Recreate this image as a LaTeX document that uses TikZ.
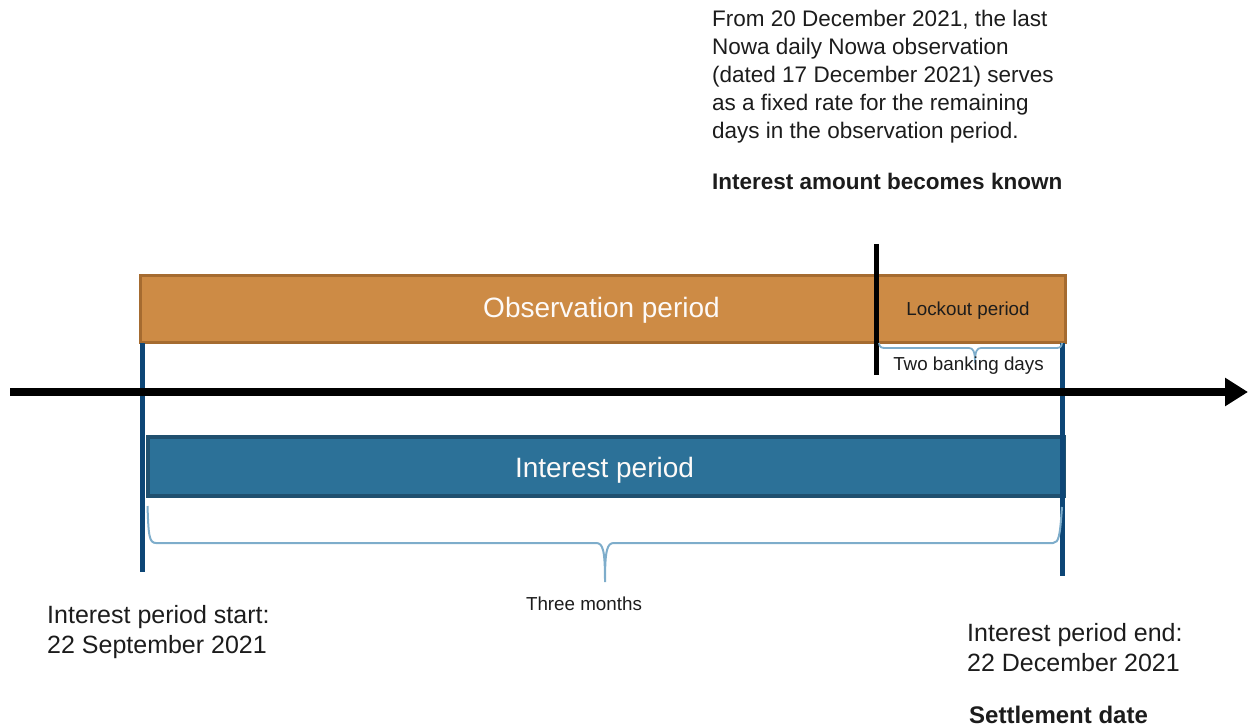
\documentclass[tikz,border=0pt]{standalone}
\usepackage{fontspec}
\setmainfont{Liberation Sans}
\usetikzlibrary{arrows.meta}
\definecolor{obsfill}{HTML}{CD8B45}
\definecolor{obsdraw}{HTML}{A56B30}
\definecolor{intfill}{HTML}{2C7198}
\definecolor{intdraw}{HTML}{20506F}
\definecolor{edgeblue}{HTML}{0D4676}
\definecolor{braceblue}{HTML}{7EADCB}
\definecolor{txt}{HTML}{1C1C1C}
\tikzset{
  bar/.style={rectangle,inner sep=0pt,outer sep=0pt},
  obsbar/.style={bar,fill=obsfill,draw=obsdraw,line width=3pt},
  intbar/.style={bar,fill=intfill,draw=intdraw,line width=4pt},
  bartext/.style={inner sep=0pt,anchor=base,text=white!96!obsfill,font=\fontsize{28}{32}\selectfont},
  smalltext/.style={inner sep=0pt,anchor=base,text=txt,font=\fontsize{18.8}{22}\selectfont},
  notetext/.style={inner sep=0pt,anchor=base west,text=txt,font=\fontsize{22.5}{28}\selectfont},
  datetext/.style={inner sep=0pt,anchor=base west,text=txt,font=\fontsize{25}{30}\selectfont},
  edge/.style={draw=edgeblue,line width=4.5pt},
  bracestyle/.style={draw=braceblue,line width=2pt},
  axis/.style={draw=black,line width=8pt,-{Triangle[length=23pt,width=27pt]}},
  marker/.style={draw=black,line width=5pt}
}
\begin{document}
\begin{tikzpicture}[x=1pt,y=-1pt]
\useasboundingbox (0,0) rectangle (1249,727);
% bars
\node[obsbar,minimum width=925pt,minimum height=66.5pt] (obs) at (602.5,308.75) {};
\node[intbar,minimum width=916.5pt,minimum height=59pt] (int) at (605.75,466.5) {};
\node[bartext] (obst) at (601.5,317) {Observation period};
\node[bartext] (intt) at (604.5,477) {Interest period};
\node[smalltext] (lock) at (968,315) {Lockout period};
% edges of the interest period
\coordinate (ls) at (142.5,343);
\coordinate (le) at (142.5,572);
\coordinate (rs) at (1062.5,343);
\coordinate (re) at (1062.5,576);
\draw[edge] (ls) -- (le);
\draw[edge] (rs) -- (re);
% axis
\coordinate (ax0) at (10,392);
\coordinate (ax1) at (1248,392);
\draw[axis] (ax0) -- (ax1);
% lockout marker
\coordinate (m0) at (876,244);
\coordinate (m1) at (876,375);
\draw[marker] (m0) -- (m1);
% small brace
\coordinate (sb0) at (879,343);
\coordinate (sbt) at (975,363);
\coordinate (sb1) at (1062,343);
\draw[bracestyle,line width=1.8pt] (sb0) .. controls (879.5,347) and (881,348) .. (885,348) -- (969,348)
  .. controls (973,348) and (975,351) .. (sbt)
  .. controls (975,351) and (977,348) .. (981,348) -- (1056,348)
  .. controls (1060,348) and (1061.5,347) .. (sb1);
\node[smalltext] (two) at (968.5,370) {Two banking days};
% large brace
\coordinate (b0) at (147.5,506);
\coordinate (bt) at (605,582);
\coordinate (b1) at (1062,507);
\draw[bracestyle] (b0) .. controls (148.5,535) and (149,543) .. (156,543) -- (596,543)
  .. controls (603,543) and (605,550) .. (bt)
  .. controls (605,550) and (607,543) .. (614,543) -- (1053,543)
  .. controls (1059,543) and (1060,535) .. (b1);
\node[smalltext] (three) at (584,610) {Three months};
% note
\node[notetext] (n1) at (712,27) {From 20 December 2021, the last};
\node[notetext] (n2) at (712,55) {Nowa daily Nowa observation};
\node[notetext] (n3) at (712,83) {(dated 17 December 2021) serves};
\node[notetext] (n4) at (712,111) {as a fixed rate for the remaining};
\node[notetext] (n5) at (712,139) {days in the observation period.};
\node[notetext,font=\fontsize{22.5}{28}\selectfont\bfseries] (known) at (712,190) {Interest amount becomes known};
% dates
\node[datetext] (s1) at (47,623) {Interest period start:};
\node[datetext] (s2) at (47,653) {22 September 2021};
\node[datetext] (e1) at (967,641) {Interest period end:};
\node[datetext] (e2) at (967,671) {22 December 2021};
\node[datetext,font=\fontsize{24}{30}\selectfont\bfseries] (settle) at (969,723.5) {Settlement date};
\end{tikzpicture}
\end{document}
